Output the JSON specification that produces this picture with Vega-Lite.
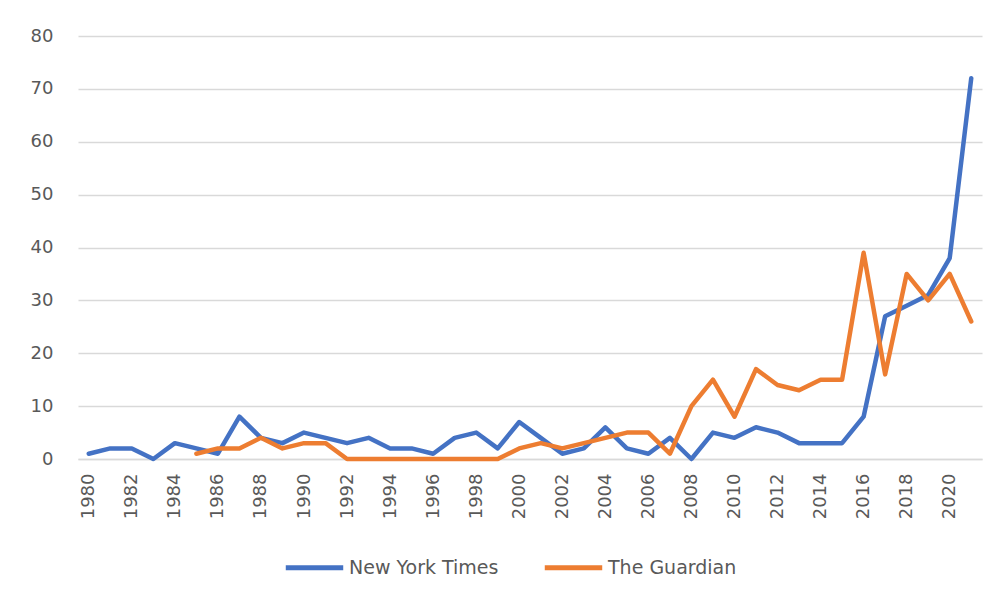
{
  "$schema": "https://vega.github.io/schema/vega-lite/v6.json",
  "width": 904,
  "height": 423,
  "autosize": {"type": "none"},
  "padding": {"left": 78, "top": 36, "right": 24, "bottom": 144},
  "background": "white",
  "config": {
    "view": {"stroke": null},
    "font": "DejaVu Sans"
  },
  "data": {
    "values": [
      {"year": 1980, "paper": "New York Times", "count": 1},
      {"year": 1981, "paper": "New York Times", "count": 2},
      {"year": 1982, "paper": "New York Times", "count": 2},
      {"year": 1983, "paper": "New York Times", "count": 0},
      {"year": 1984, "paper": "New York Times", "count": 3},
      {"year": 1985, "paper": "New York Times", "count": 2},
      {"year": 1986, "paper": "New York Times", "count": 1},
      {"year": 1987, "paper": "New York Times", "count": 8},
      {"year": 1988, "paper": "New York Times", "count": 4},
      {"year": 1989, "paper": "New York Times", "count": 3},
      {"year": 1990, "paper": "New York Times", "count": 5},
      {"year": 1991, "paper": "New York Times", "count": 4},
      {"year": 1992, "paper": "New York Times", "count": 3},
      {"year": 1993, "paper": "New York Times", "count": 4},
      {"year": 1994, "paper": "New York Times", "count": 2},
      {"year": 1995, "paper": "New York Times", "count": 2},
      {"year": 1996, "paper": "New York Times", "count": 1},
      {"year": 1997, "paper": "New York Times", "count": 4},
      {"year": 1998, "paper": "New York Times", "count": 5},
      {"year": 1999, "paper": "New York Times", "count": 2},
      {"year": 2000, "paper": "New York Times", "count": 7},
      {"year": 2001, "paper": "New York Times", "count": 4},
      {"year": 2002, "paper": "New York Times", "count": 1},
      {"year": 2003, "paper": "New York Times", "count": 2},
      {"year": 2004, "paper": "New York Times", "count": 6},
      {"year": 2005, "paper": "New York Times", "count": 2},
      {"year": 2006, "paper": "New York Times", "count": 1},
      {"year": 2007, "paper": "New York Times", "count": 4},
      {"year": 2008, "paper": "New York Times", "count": 0},
      {"year": 2009, "paper": "New York Times", "count": 5},
      {"year": 2010, "paper": "New York Times", "count": 4},
      {"year": 2011, "paper": "New York Times", "count": 6},
      {"year": 2012, "paper": "New York Times", "count": 5},
      {"year": 2013, "paper": "New York Times", "count": 3},
      {"year": 2014, "paper": "New York Times", "count": 3},
      {"year": 2015, "paper": "New York Times", "count": 3},
      {"year": 2016, "paper": "New York Times", "count": 8},
      {"year": 2017, "paper": "New York Times", "count": 27},
      {"year": 2018, "paper": "New York Times", "count": 29},
      {"year": 2019, "paper": "New York Times", "count": 31},
      {"year": 2020, "paper": "New York Times", "count": 38},
      {"year": 2021, "paper": "New York Times", "count": 72},
      {"year": 1985, "paper": "The Guardian", "count": 1},
      {"year": 1986, "paper": "The Guardian", "count": 2},
      {"year": 1987, "paper": "The Guardian", "count": 2},
      {"year": 1988, "paper": "The Guardian", "count": 4},
      {"year": 1989, "paper": "The Guardian", "count": 2},
      {"year": 1990, "paper": "The Guardian", "count": 3},
      {"year": 1991, "paper": "The Guardian", "count": 3},
      {"year": 1992, "paper": "The Guardian", "count": 0},
      {"year": 1993, "paper": "The Guardian", "count": 0},
      {"year": 1994, "paper": "The Guardian", "count": 0},
      {"year": 1995, "paper": "The Guardian", "count": 0},
      {"year": 1996, "paper": "The Guardian", "count": 0},
      {"year": 1997, "paper": "The Guardian", "count": 0},
      {"year": 1998, "paper": "The Guardian", "count": 0},
      {"year": 1999, "paper": "The Guardian", "count": 0},
      {"year": 2000, "paper": "The Guardian", "count": 2},
      {"year": 2001, "paper": "The Guardian", "count": 3},
      {"year": 2002, "paper": "The Guardian", "count": 2},
      {"year": 2003, "paper": "The Guardian", "count": 3},
      {"year": 2004, "paper": "The Guardian", "count": 4},
      {"year": 2005, "paper": "The Guardian", "count": 5},
      {"year": 2006, "paper": "The Guardian", "count": 5},
      {"year": 2007, "paper": "The Guardian", "count": 1},
      {"year": 2008, "paper": "The Guardian", "count": 10},
      {"year": 2009, "paper": "The Guardian", "count": 15},
      {"year": 2010, "paper": "The Guardian", "count": 8},
      {"year": 2011, "paper": "The Guardian", "count": 17},
      {"year": 2012, "paper": "The Guardian", "count": 14},
      {"year": 2013, "paper": "The Guardian", "count": 13},
      {"year": 2014, "paper": "The Guardian", "count": 15},
      {"year": 2015, "paper": "The Guardian", "count": 15},
      {"year": 2016, "paper": "The Guardian", "count": 39},
      {"year": 2017, "paper": "The Guardian", "count": 16},
      {"year": 2018, "paper": "The Guardian", "count": 35},
      {"year": 2019, "paper": "The Guardian", "count": 30},
      {"year": 2020, "paper": "The Guardian", "count": 35},
      {"year": 2021, "paper": "The Guardian", "count": 26}
    ]
  },
  "mark": {"type": "line", "strokeWidth": 4.5, "strokeJoin": "round", "strokeCap": "round"},
  "encoding": {
    "x": {
      "field": "year",
      "type": "quantitative",
      "scale": {"domain": [1979.5, 2021.5], "nice": false, "zero": false},
      "axis": {
        "title": null,
        "values": [1980, 1982, 1984, 1986, 1988, 1990, 1992, 1994, 1996, 1998, 2000, 2002, 2004, 2006, 2008, 2010, 2012, 2014, 2016, 2018, 2020],
        "format": "d",
        "grid": false,
        "ticks": false,
        "domain": true,
        "domainColor": "#D9D9D9",
        "domainWidth": 1.5,
        "labelAngle": -90,
        "labelFontSize": 18,
        "labelColor": "#595959",
        "labelPadding": 14,
        "labelFont": "DejaVu Sans"
      }
    },
    "y": {
      "field": "count",
      "type": "quantitative",
      "scale": {"domain": [0, 80], "nice": false},
      "axis": {
        "title": null,
        "values": [0, 10, 20, 30, 40, 50, 60, 70, 80],
        "grid": true,
        "gridColor": "#D9D9D9",
        "gridWidth": 1.5,
        "ticks": false,
        "domain": false,
        "labelFontSize": 18,
        "labelColor": "#595959",
        "labelPadding": 25,
        "labelFont": "DejaVu Sans"
      }
    },
    "color": {
      "field": "paper",
      "type": "nominal",
      "scale": {"domain": ["New York Times", "The Guardian"], "range": ["#4472C4", "#ED7D31"]},
      "legend": {
        "title": null,
        "orient": "none",
        "direction": "horizontal",
        "legendX": 205,
        "legendY": 500,
        "symbolType": "stroke",
        "symbolSize": 3300,
        "symbolStrokeWidth": 5,
        "labelFontSize": 19,
        "labelColor": "#595959",
        "labelOffset": 3,
        "columnPadding": 35,
        "labelFont": "DejaVu Sans"
      }
    }
  }
}
